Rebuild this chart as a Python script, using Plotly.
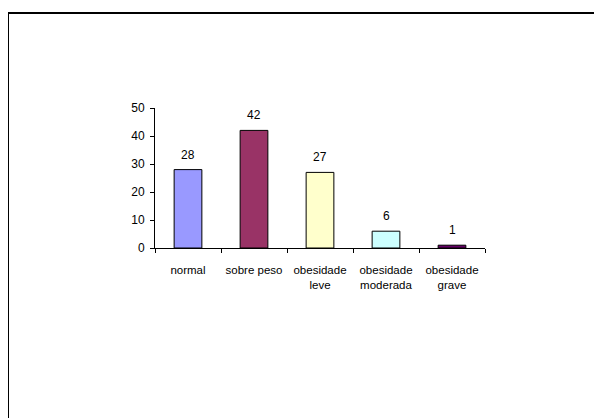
import plotly.graph_objects as go

categories = ["normal", "sobre peso", "obesidade<br>leve", "obesidade<br>moderada", "obesidade<br>grave"]
values = [28, 42, 27, 6, 1]
colors = ["#9999FF", "#993366", "#FFFFCC", "#CCFFFF", "#660066"]
y_ticks = [0, 10, 20, 30, 40, 50]

W, H = 594, 418
L, R, T, B = 155, 485, 108, 248
FONT = "Liberation Sans, Arial"

fig = go.Figure(go.Bar(
    x=categories, y=values,
    marker=dict(color=colors, line=dict(color="#000000", width=1)),
    width=0.42,
))

for c, v in zip(categories, values):
    fig.add_annotation(x=c, y=v, text=str(v), showarrow=False, yanchor="bottom",
                       yshift=6, font=dict(family=FONT, size=12, color="#000000"))

fig.update_layout(
    width=W, height=H,
    margin=dict(l=L, r=W - R, t=T, b=H - B, pad=0),
    paper_bgcolor="white", plot_bgcolor="white",
    showlegend=False,
    font=dict(family=FONT, size=11.5, color="#000000"),
    xaxis=dict(showline=True, linecolor="#000000", linewidth=1, ticks="outside",
               tickson="boundaries", ticklen=4, tickcolor="#000000", showgrid=False,
               ticklabelstandoff=11, tickfont=dict(size=11.5)),
    yaxis=dict(range=[0, 50], tickvals=y_ticks, showline=True, linecolor="#000000",
               linewidth=1, ticks="outside", ticklen=4, tickcolor="#000000",
               showgrid=False, zeroline=False, ticklabelstandoff=3,
               tickfont=dict(size=12)),
)

pw, ph = R - L, B - T
def px(x): return (x - L) / pw
def py(y): return (B - y) / ph

fig.add_shape(type="line", xref="paper", yref="paper", x0=px(8), x1=px(620), y0=py(13), y1=py(13),
              line=dict(color="#000000", width=2))
fig.add_shape(type="line", xref="paper", yref="paper", x0=px(8.5), x1=px(8.5), y0=py(12), y1=py(440),
              line=dict(color="#000000", width=1))

fig.write_html("out.html")
